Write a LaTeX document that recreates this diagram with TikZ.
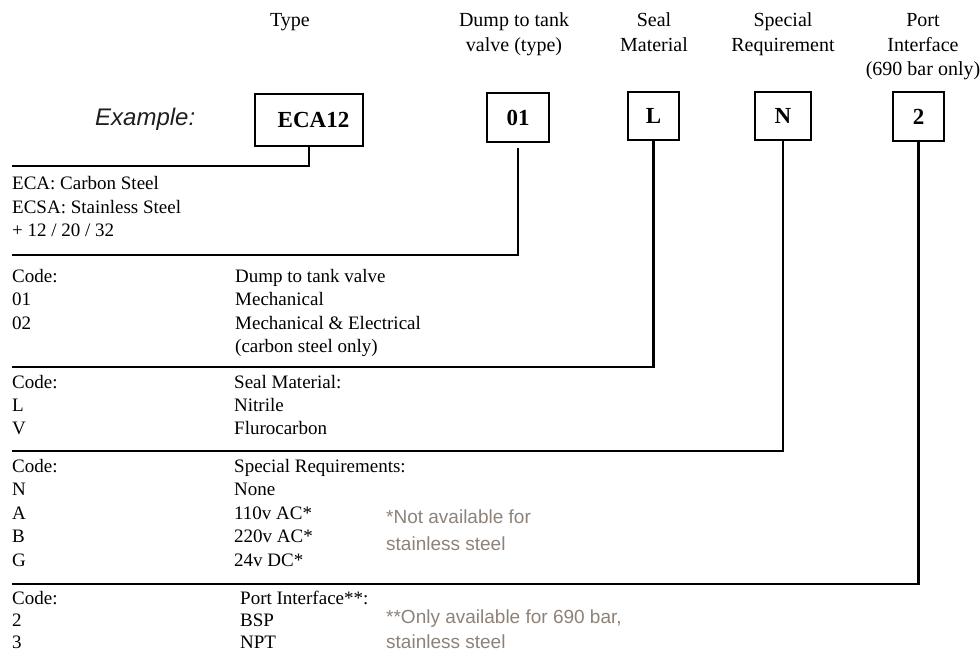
\documentclass[tikz,border=0pt]{standalone}
\usepackage{fontspec}
\setmainfont{Liberation Serif}
\newfontfamily\notefont{Liberation Sans}
\definecolor{notegrey}{HTML}{8C8279}
\tikzset{
 txt/.style={anchor=base west, inner sep=0pt, font=\fontsize{19}{23}\selectfont},
 hdr/.style={anchor=base, inner sep=0pt, font=\fontsize{20}{24}\selectfont},
 codebox/.style={draw, line width=1.3pt, inner sep=0pt, font=\fontsize{23}{26}\selectfont\bfseries},
 lead/.style={line width=2.8pt},
 note/.style={anchor=base west, inner sep=0pt, font=\notefont\fontsize{19}{23}\selectfont, text=notegrey},
 exmp/.style={anchor=base west, inner sep=0pt, font=\notefont\itshape\fontsize{24}{28}\selectfont, text=black!88},
}
\begin{document}
\begin{tikzpicture}[x=1pt,y=-1pt]
\useasboundingbox (0,0) rectangle (980,653);
% headers
\node[hdr] (h1) at (290,27) {Type};
\node[hdr] (h2a) at (514,27) {Dump to tank};
\node[hdr] (h2b) at (514,51.5) {valve (type)};
\node[hdr] (h3a) at (654,27) {Seal};
\node[hdr] (h3b) at (654,51.5) {Material};
\node[hdr] (h4a) at (783,27) {Special};
\node[hdr] (h4b) at (783,51.5) {Requirement};
\node[hdr] (h5a) at (923,27) {Port};
\node[hdr] (h5b) at (923,51.5) {Interface};
\node[hdr] (h5c) at (923,75.5) {(690 bar only)};
% example
\node[exmp] (ex) at (95,125) {Example:};
\node[codebox, minimum width=108pt, minimum height=52pt] (b1) at (309,120) {\hspace*{9pt}ECA12};
\node[codebox, minimum width=62pt, minimum height=49pt] (b2) at (518,117.5) {01};
\node[codebox, minimum width=51pt, minimum height=48pt] (b3) at (653.5,116) {L};
\node[codebox, minimum width=56pt, minimum height=48pt] (b4) at (783,116) {N};
\node[codebox, minimum width=51pt, minimum height=49pt] (b5) at (918.5,116.5) {2};
% leader ends
\coordinate (e1) at (12,166);
\coordinate (e2) at (12,255);
\coordinate (e3) at (12,367);
\coordinate (e4) at (12,451);
\coordinate (e5) at (12,584);
\draw[lead] (b1.south) |- (e1);
\draw[lead] ([yshift=-5pt]b2.south) |- (e2);
\draw[lead] (b3.south) |- (e3);
\draw[lead] (b4.south) |- (e4);
\draw[lead] (b5.south) |- (e5);
% block 1
\node[txt] (t11) at (12,189) {ECA: Carbon Steel};
\node[txt] (t12) at (12,213) {ECSA: Stainless Steel};
\node[txt] (t13) at (12,236) {+ 12 / 20 / 32};
% block 2
\node[txt] (t21) at (12,282) {Code:};
\node[txt] (t22) at (12,305) {01};
\node[txt] (t23) at (12,329) {02};
\node[txt] (u21) at (235,282) {Dump to tank valve};
\node[txt] (u22) at (235,305) {Mechanical};
\node[txt] (u23) at (235,329) {Mechanical \& Electrical};
\node[txt] (u24) at (235,352) {(carbon steel only)};
% block 3
\node[txt] (t31) at (12,388) {Code:};
\node[txt] (t32) at (12,411) {L};
\node[txt] (t33) at (12,434) {V};
\node[txt] (u31) at (234,388) {Seal Material:};
\node[txt] (u32) at (234,411) {Nitrile};
\node[txt] (u33) at (234,434) {Flurocarbon};
% block 4
\node[txt] (t41) at (12,472) {Code:};
\node[txt] (t42) at (12,495) {N};
\node[txt] (t43) at (12,519) {A};
\node[txt] (t44) at (12,542) {B};
\node[txt] (t45) at (12,566) {G};
\node[txt] (u41) at (234,472) {Special Requirements:};
\node[txt] (u42) at (234,495) {None};
\node[txt] (u43) at (234,519) {110v AC*};
\node[txt] (u44) at (234,542) {220v AC*};
\node[txt] (u45) at (234,566) {24v DC*};
\node[note] (n41) at (386,523) {*Not available for};
\node[note] (n42) at (386,550) {stainless steel};
% block 5
\node[txt] (t51) at (12,604) {Code:};
\node[txt] (t52) at (12,626) {2};
\node[txt] (t53) at (12,648) {3};
\node[txt] (u51) at (240,604) {Port Interface**:};
\node[txt] (u52) at (240,626) {BSP};
\node[txt] (u53) at (240,648) {NPT};
\node[note] (n51) at (386,623) {**Only available for 690 bar,};
\node[note] (n52) at (386,648) {stainless steel};
\end{tikzpicture}
\end{document}
